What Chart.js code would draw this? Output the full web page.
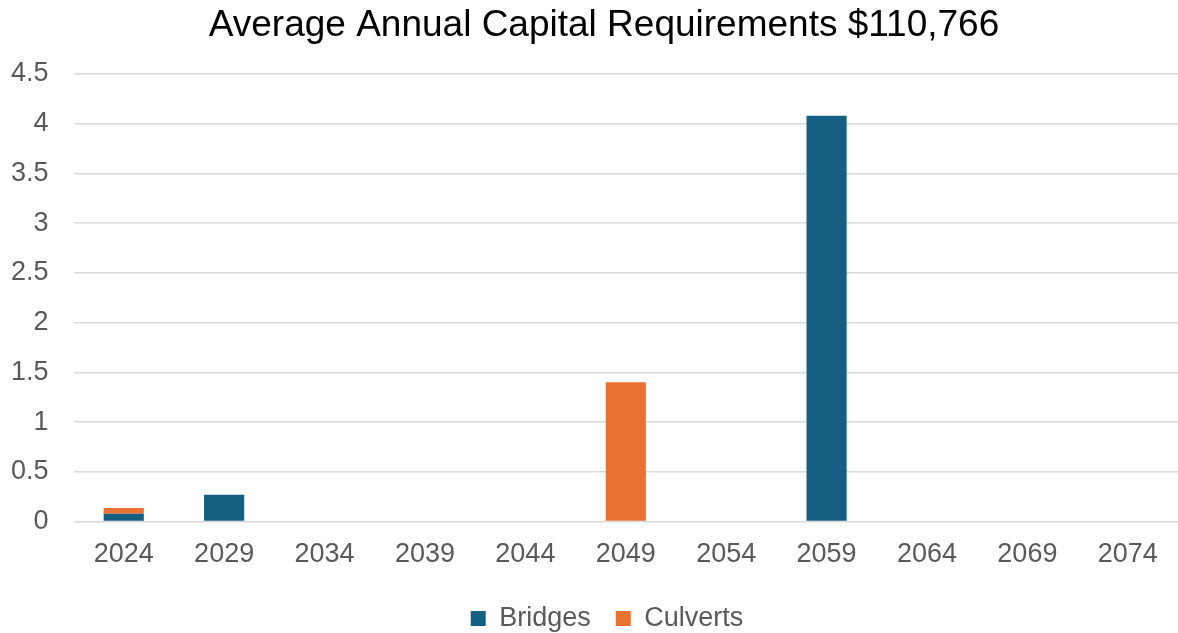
<!DOCTYPE html>
<html>
<head>
<meta charset="utf-8">
<script src="https://cdn.jsdelivr.net/npm/chart.js@4/dist/chart.umd.min.js"></script>
<style>
  html, body { margin: 0; padding: 0; background: #fff; }
  #wrap { width: 1178px; height: 633px; position: relative; }
</style>
</head>
<body>
<div id="wrap"><canvas id="capChart" width="1178" height="633"></canvas></div>
<script>
const chartTitle = 'Average Annual Capital Requirements $110,766';
const years = ['2024', '2029', '2034', '2039', '2044', '2049', '2054', '2059', '2064', '2069', '2074'];
const bridges = [0.08, 0.27, 0, 0, 0, 0, 0, 4.08, 0, 0, 0];
const culverts = [0.056, 0, 0, 0, 0, 1.4, 0, 0, 0, 0, 0];
const yTicks = [0, 0.5, 1, 1.5, 2, 2.5, 3, 3.5, 4, 4.5];

const fontFam = 'Liberation Sans, Arial, sans-serif';

// title and legend in the original sit a bit right of the canvas centre
const recentre = {
    id: 'recentre',
    afterLayout(chart) {
        const moveTo = (box, cx) => {
            if (!box) return;
            const w = box.right - box.left;
            box.left = cx - w / 2;
            box.right = cx + w / 2;
        };
        moveTo(chart.titleBlock, 604);
        moveTo(chart.legend, 607);
    }
};

const ctx = document.getElementById('capChart').getContext('2d');
new Chart(ctx, {
    type: 'bar',
    data: {
        labels: years,
        datasets: [
            { label: 'Bridges', data: bridges, backgroundColor: '#156082', stack: 's' },
            { label: 'Culverts', data: culverts, backgroundColor: '#E97132', stack: 's' }
        ]
    },
    plugins: [recentre],
    options: {
        responsive: false,
        animation: false,
        devicePixelRatio: 1,
        layout: { padding: { left: -14, right: 0, top: 4, bottom: -9 } },
        datasets: { bar: { categoryPercentage: 1, barPercentage: 0.4 } },
        plugins: {
            title: {
                display: true,
                text: chartTitle,
                color: '#000',
                font: { family: fontFam, size: 37, weight: 'normal', lineHeight: 1.2 },
                padding: { top: 0, bottom: 25.6 }
            },
            legend: {
                position: 'bottom',
                labels: {
                    color: '#595959',
                    font: { family: fontFam, size: 27, lineHeight: 1 },
                    boxWidth: 15,
                    boxHeight: 15,
                    padding: 25
                }
            },
            tooltip: { enabled: false }
        },
        scales: {
            x: {
                stacked: true,
                grid: { display: false },
                border: { display: false },
                ticks: { color: '#595959', font: { family: fontFam, size: 27 }, padding: 9 }
            },
            y: {
                stacked: true,
                min: 0,
                max: 4.5,
                afterBuildTicks: axis => { axis.ticks = yTicks.map(v => ({ value: v })); },
                grid: { color: '#d9d9d9', lineWidth: 1.5, drawTicks: false },
                border: { display: false },
                ticks: {
                    color: '#595959',
                    font: { family: fontFam, size: 27 },
                    padding: 25,
                    callback: v => String(v)
                }
            }
        }
    }
});
</script>
</body>
</html>
